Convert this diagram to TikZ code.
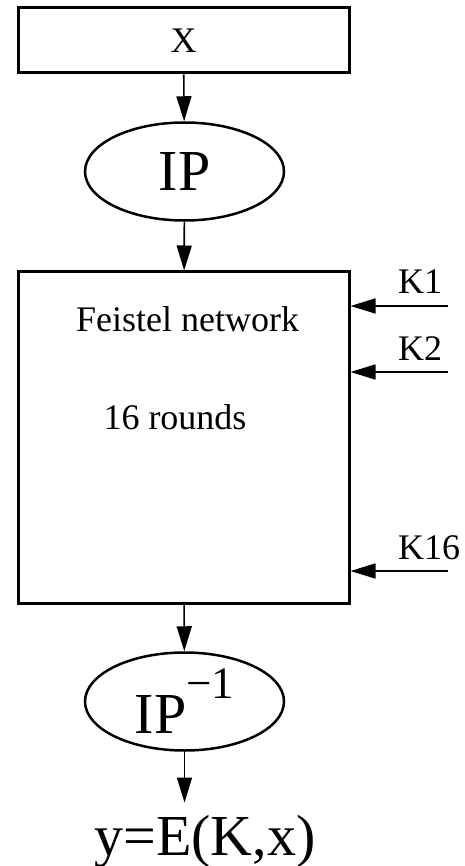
\documentclass[tikz,border=0pt]{standalone}
\usepackage{fontspec}
\setmainfont{Liberation Serif}
\usetikzlibrary{positioning,shapes.geometric,arrows.meta}

\begin{document}
\begin{tikzpicture}[x=1pt,y=-1pt]
                        \tikzstyle{every node}=[inner sep=0,font=\fontsize{36}{40}\selectfont]
                        \tikzstyle{block}=[draw,rectangle,line width=3,minimum width=331]
                        \tikzstyle{perm}=[draw,ellipse,line width=2.5,minimum width=199,minimum height=98,font=\fontsize{58}{60}\selectfont]
                        \tikzstyle{note}=[draw=none,fill=none]
                        \tikzstyle{flow}=[line width=1.6,-{Triangle[length=25pt,width=15pt]}]
                        \useasboundingbox (0,0) rectangle (465,866);

                        % input, initial permutation
                        \node[block,minimum height=65.5] (xin) at (183.5,40.25) {X};
                        \node[perm] (ip) at (184.5,171.5) {IP};

                        % the rounds
                        \node[block,minimum height=331.5] (feistel) at (183.5,437.75) {};
                        \node[note,anchor=base] (title) at (187.5,331) {Feistel network};
                        \node[note,anchor=base] (rounds) at (175,429) {16 rounds};

                        % round keys
                        \foreach \k/\yk in {1/306,2/372,16/571} {
                            \coordinate (s\k) at (448,\yk);
                            \node[note,anchor=base west] (k\k) at (398,\yk-12) {K\k};
                            \draw[flow] (s\k) -- (feistel.east |- s\k);
                        }

                        % final permutation, output
                        \node[perm] (ipinv) at (184.5,701.5) {IP\raisebox{35pt}{\fontsize{45}{45}\selectfont −1}\hspace{10pt}};
                        \node[note,anchor=base,inner ysep=12,font=\fontsize{58}{60}\selectfont] (out) at (205,855) {y=E(K,x)};

                        \draw[flow] (xin) -- (ip);
                        \draw[flow] (ip) -- (feistel);
                        \draw[flow] (feistel) -- (ipinv);
                        \draw[flow] (ipinv) -- (ipinv |- out.north);
\end{tikzpicture}
\end{document}
